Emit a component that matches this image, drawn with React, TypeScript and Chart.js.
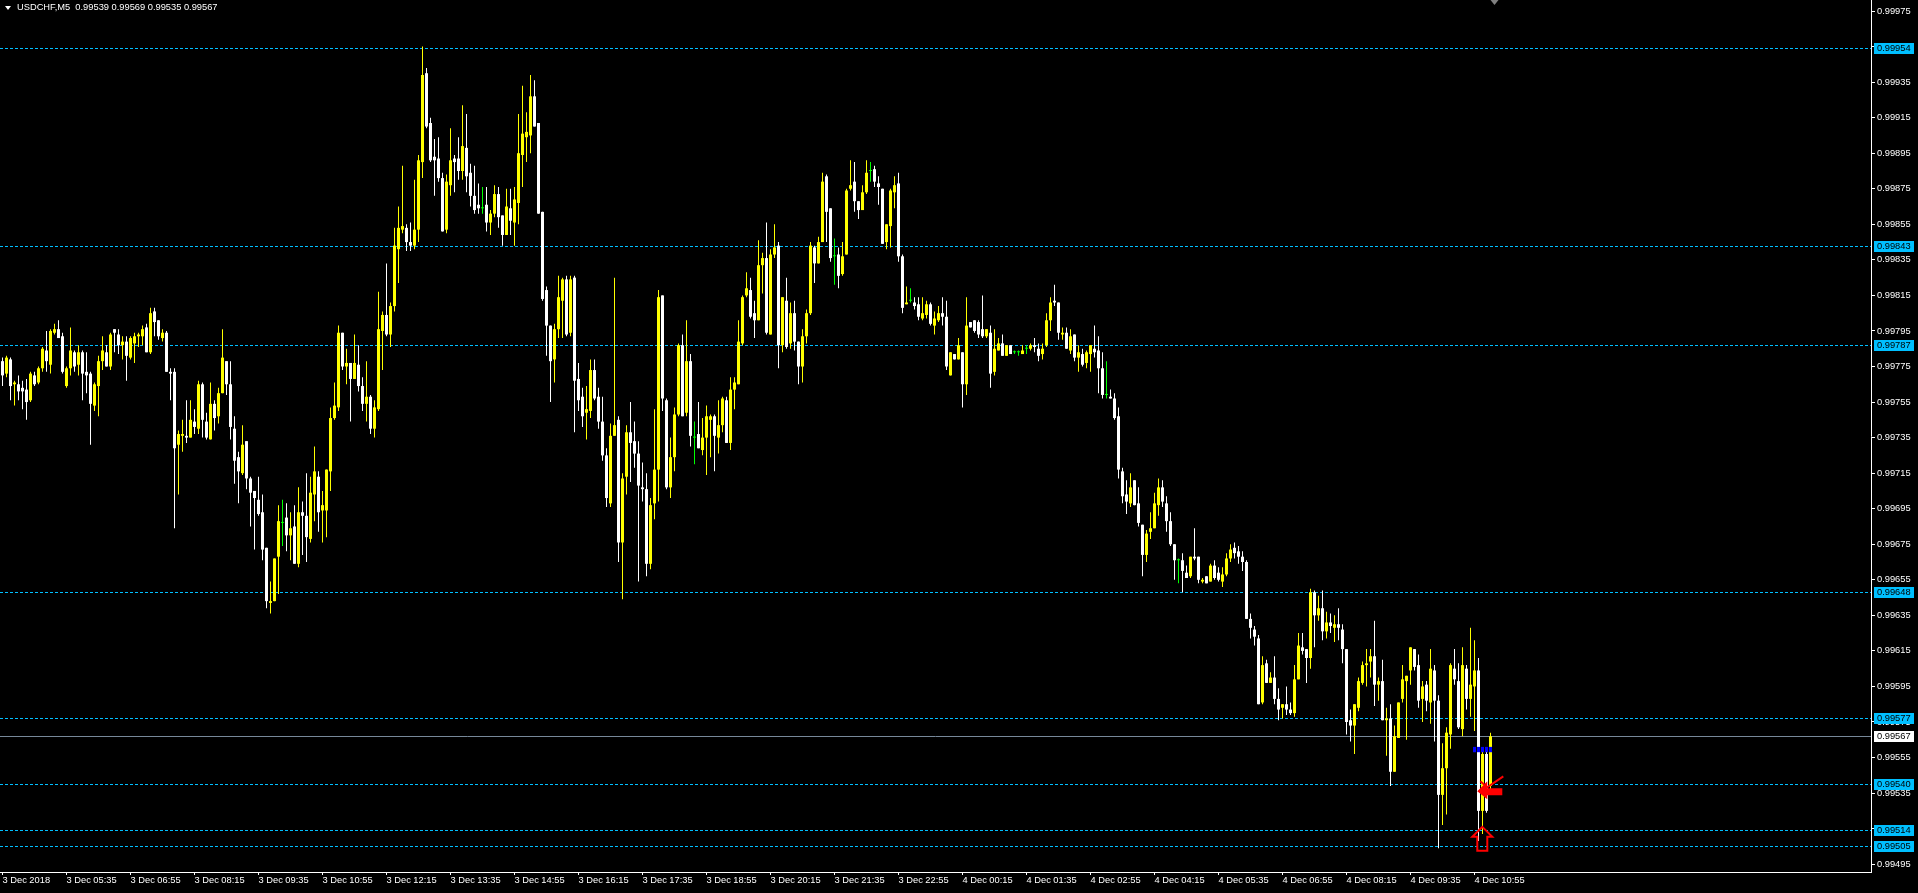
import React, { useEffect, useRef } from "react";
import { Chart, registerables } from "chart.js";

Chart.register(...registerables);

// ---------- data ----------
const opens = [
0.99778,0.99771,0.99779,0.99765,0.99765,0.99763,0.99762,0.99756,0.99770,0.99766,
0.99774,0.99784,0.99776,0.99794,0.99796,0.99792,0.99764,0.99774,0.99783,0.99776,
0.99783,0.99772,0.99771,0.99753,0.99764,0.99778,0.99783,0.99775,0.99796,0.99793,
0.99787,0.99789,0.99780,0.99788,0.99792,0.99792,0.99797,0.99783,0.99806,0.99801,
0.99791,0.99794,0.99772,0.99772,0.99731,0.99736,0.99736,0.99735,0.99744,0.99740,
0.99765,0.99744,0.99734,0.99754,0.99747,0.99760,0.99778,0.99765,0.99740,0.99724,
0.99715,0.99733,0.99712,0.99705,0.99700,0.99693,0.99673,0.99642,0.99643,0.99668,
0.99687,0.99690,0.99680,0.99685,0.99664,0.99693,0.99691,0.99678,0.99703,0.99713,
0.99694,0.99694,0.99716,0.99746,0.99752,0.99794,0.99775,0.99777,0.99768,0.99776,
0.99764,0.99754,0.99758,0.99740,0.99751,0.99795,0.99804,0.99793,0.99809,0.99841,
0.99852,0.99853,0.99845,0.99843,0.99852,0.99890,0.99940,0.99912,0.99893,0.99892,
0.99881,0.99852,0.99877,0.99892,0.99892,0.99885,0.99898,0.99884,0.99871,0.99866,
0.99864,0.99866,0.99856,0.99861,0.99872,0.99860,0.99849,0.99864,0.99856,0.99867,
0.99894,0.99904,0.99905,0.99927,0.99912,0.99862,0.99818,0.99798,0.99779,0.99796,
0.99812,0.99824,0.99794,0.99825,0.99768,0.99758,0.99749,0.99750,0.99773,0.99758,
0.99744,0.99725,0.99698,0.99736,0.99745,0.99676,0.99713,0.99738,0.99733,0.99726,
0.99707,0.99706,0.99664,0.99698,0.99717,0.99815,0.99756,0.99707,0.99724,0.99748,
0.99787,0.99749,0.99778,0.99735,0.99737,0.99728,0.99735,0.99745,0.99747,0.99735,
0.99742,0.99756,0.99732,0.99762,0.99765,0.99788,0.99815,0.99818,0.99805,0.99801,
0.99832,0.99836,0.99793,0.99838,0.99843,0.99787,0.99812,0.99788,0.99805,0.99789,
0.99775,0.99792,0.99805,0.99842,0.99833,0.99845,0.99882,0.99864,0.99837,0.99838,
0.99827,0.99838,0.99875,0.99879,0.99868,0.99863,0.99873,0.99885,0.99886,0.99878,
0.99875,0.99845,0.99854,0.99873,0.99878,0.99837,0.99810,0.99812,0.99811,0.99810,
0.99802,0.99804,0.99810,0.99798,0.99801,0.99805,0.99803,0.99770,0.99782,0.99779,
0.99783,0.99765,0.99800,0.99801,0.99800,0.99796,0.99792,0.99794,0.99772,0.99784,
0.99788,0.99781,0.99787,0.99783,0.99783,0.99782,0.99785,0.99785,0.99787,0.99785,
0.99782,0.99787,0.99801,0.99812,0.99811,0.99793,0.99794,0.99784,0.99793,0.99780,
0.99782,0.99777,0.99782,0.99785,0.99784,0.99774,0.99759,0.99758,0.99757,0.99747,
0.99716,0.99703,0.99698,0.99711,0.99698,0.99686,0.99669,0.99682,0.99684,0.99697,
0.99707,0.99698,0.99688,0.99675,0.99666,0.99666,0.99659,0.99657,0.99668,0.99668,
0.99654,0.99657,0.99654,0.99663,0.99659,0.99654,0.99658,0.99667,0.99673,0.99671,
0.99668,0.99665,0.99633,0.99627,0.99622,0.99586,0.99608,0.99597,0.99600,0.99588,
0.99583,0.99585,0.99582,0.99580,0.99599,0.99617,0.99616,0.99611,0.99648,0.99635,
0.99639,0.99626,0.99631,0.99628,0.99630,0.99627,0.99616,0.99576,0.99573,0.99583,
0.99597,0.99607,0.99609,0.99612,0.99596,0.99598,0.99576,0.99577,0.99547,0.99566,
0.99588,0.99598,0.99604,0.99616,0.99607,0.99588,0.99596,0.99586,0.99604,0.99587,
0.99534,0.99549,0.99568,0.99605,0.99598,0.99571,0.99605,0.99588,0.99595,0.99604,
0.99525,0.99557,0.99539];

const highs = [
0.99780,0.99781,0.99780,0.99767,0.99770,0.99767,0.99768,0.99772,0.99772,0.99775,
0.99786,0.99795,0.99796,0.99799,0.99801,0.99794,0.99775,0.99797,0.99784,0.99787,
0.99784,0.99783,0.99772,0.99766,0.99781,0.99792,0.99787,0.99794,0.99796,0.99796,
0.99792,0.99792,0.99792,0.99794,0.99794,0.99798,0.99799,0.99808,0.99808,0.99801,
0.99796,0.99795,0.99774,0.99774,0.99739,0.99745,0.99756,0.99756,0.99751,0.99767,
0.99766,0.99749,0.99766,0.99756,0.99763,0.99796,0.99778,0.99778,0.99747,0.99727,
0.99742,0.99733,0.99713,0.99705,0.99713,0.99703,0.99673,0.99654,0.99667,0.99697,
0.99700,0.99698,0.99693,0.99697,0.99707,0.99699,0.99715,0.99713,0.99730,0.99716,
0.99705,0.99717,0.99752,0.99766,0.99798,0.99794,0.99785,0.99777,0.99793,0.99787,
0.99769,0.99778,0.99759,0.99756,0.99817,0.99806,0.99833,0.99811,0.99853,0.99865,
0.99888,0.99855,0.99856,0.99880,0.99894,0.99955,0.99943,0.99915,0.99903,0.99904,
0.99884,0.99883,0.99909,0.99894,0.99904,0.99922,0.99917,0.99889,0.99888,0.99878,
0.99876,0.99876,0.99863,0.99877,0.99876,0.99860,0.99875,0.99875,0.99876,0.99917,
0.99933,0.99918,0.99939,0.99936,0.99912,0.99862,0.99820,0.99798,0.99799,0.99826,
0.99825,0.99826,0.99826,0.99826,0.99777,0.99763,0.99764,0.99779,0.99779,0.99763,
0.99758,0.99729,0.99743,0.99825,0.99747,0.99715,0.99742,0.99755,0.99744,0.99733,
0.99721,0.99715,0.99701,0.99751,0.99818,0.99815,0.99757,0.99735,0.99752,0.99788,
0.99793,0.99801,0.99782,0.99744,0.99755,0.99746,0.99753,0.99748,0.99748,0.99756,
0.99758,0.99758,0.99769,0.99769,0.99801,0.99815,0.99828,0.99825,0.99812,0.99846,
0.99839,0.99856,0.99841,0.99855,0.99845,0.99814,0.99825,0.99811,0.99812,0.99789,
0.99796,0.99807,0.99845,0.99843,0.99848,0.99884,0.99883,0.99864,0.99847,0.99842,
0.99845,0.99875,0.99891,0.99890,0.99868,0.99877,0.99891,0.99890,0.99888,0.99882,
0.99875,0.99855,0.99875,0.99882,0.99884,0.99838,0.99820,0.99819,0.99814,0.99814,
0.99814,0.99812,0.99811,0.99806,0.99809,0.99814,0.99812,0.99783,0.99782,0.99791,
0.99783,0.99814,0.99800,0.99801,0.99801,0.99815,0.99796,0.99798,0.99796,0.99791,
0.99793,0.99787,0.99787,0.99784,0.99784,0.99787,0.99787,0.99788,0.99791,0.99788,
0.99788,0.99805,0.99814,0.99821,0.99811,0.99797,0.99797,0.99796,0.99793,0.99787,
0.99785,0.99784,0.99787,0.99798,0.99792,0.99783,0.99778,0.99762,0.99760,0.99752,
0.99718,0.99711,0.99715,0.99711,0.99707,0.99686,0.99683,0.99693,0.99704,0.99712,
0.99711,0.99702,0.99693,0.99675,0.99667,0.99670,0.99663,0.99668,0.99684,0.99668,
0.99656,0.99657,0.99664,0.99666,0.99662,0.99662,0.99670,0.99675,0.99676,0.99674,
0.99671,0.99666,0.99636,0.99629,0.99624,0.99612,0.99610,0.99603,0.99612,0.99594,
0.99585,0.99595,0.99586,0.99607,0.99625,0.99625,0.99616,0.99650,0.99649,0.99646,
0.99649,0.99637,0.99636,0.99635,0.99639,0.99630,0.99616,0.99582,0.99585,0.99600,
0.99609,0.99616,0.99616,0.99632,0.99600,0.99610,0.99583,0.99585,0.99573,0.99586,
0.99607,0.99601,0.99617,0.99616,0.99613,0.99598,0.99598,0.99616,0.99607,0.99590,
0.99563,0.99572,0.99608,0.99616,0.99608,0.99617,0.99607,0.99628,0.99621,0.99611,
0.99559,0.99561,0.99569];

const lows = [
0.99764,0.99769,0.99756,0.99753,0.99756,0.99751,0.99745,0.99755,0.99764,0.99765,
0.99772,0.99772,0.99771,0.99793,0.99791,0.99771,0.99763,0.99770,0.99772,0.99770,
0.99756,0.99760,0.99731,0.99750,0.99747,0.99773,0.99775,0.99773,0.99783,0.99782,
0.99779,0.99767,0.99779,0.99777,0.99786,0.99787,0.99783,0.99782,0.99792,0.99790,
0.99789,0.99772,0.99756,0.99684,0.99703,0.99727,0.99732,0.99735,0.99737,0.99737,
0.99735,0.99734,0.99734,0.99739,0.99743,0.99760,0.99759,0.99734,0.99709,0.99698,
0.99714,0.99706,0.99685,0.99672,0.99691,0.99666,0.99639,0.99636,0.99643,0.99647,
0.99674,0.99671,0.99666,0.99664,0.99662,0.99669,0.99665,0.99676,0.99688,0.99682,
0.99676,0.99679,0.99705,0.99745,0.99750,0.99773,0.99765,0.99744,0.99768,0.99761,
0.99750,0.99744,0.99737,0.99735,0.99750,0.99773,0.99792,0.99786,0.99806,0.99822,
0.99850,0.99840,0.99840,0.99841,0.99845,0.99881,0.99909,0.99890,0.99871,0.99879,
0.99851,0.99850,0.99871,0.99873,0.99880,0.99880,0.99873,0.99865,0.99861,0.99861,
0.99861,0.99851,0.99849,0.99859,0.99853,0.99843,0.99849,0.99849,0.99843,0.99855,
0.99876,0.99890,0.99895,0.99910,0.99861,0.99812,0.99781,0.99755,0.99766,0.99791,
0.99791,0.99792,0.99792,0.99738,0.99750,0.99741,0.99734,0.99746,0.99756,0.99740,
0.99722,0.99696,0.99696,0.99736,0.99665,0.99644,0.99703,0.99710,0.99718,0.99654,
0.99699,0.99657,0.99661,0.99689,0.99699,0.99750,0.99706,0.99701,0.99716,0.99747,
0.99747,0.99747,0.99730,0.99720,0.99729,0.99725,0.99714,0.99724,0.99716,0.99726,
0.99738,0.99732,0.99728,0.99751,0.99765,0.99787,0.99814,0.99802,0.99791,0.99801,
0.99816,0.99793,0.99793,0.99836,0.99774,0.99783,0.99785,0.99785,0.99784,0.99765,
0.99766,0.99788,0.99804,0.99822,0.99833,0.99845,0.99845,0.99834,0.99821,0.99819,
0.99826,0.99838,0.99874,0.99862,0.99858,0.99863,0.99872,0.99879,0.99876,0.99866,
0.99844,0.99841,0.99842,0.99864,0.99834,0.99805,0.99810,0.99811,0.99807,0.99801,
0.99801,0.99802,0.99798,0.99793,0.99800,0.99798,0.99773,0.99770,0.99779,0.99779,
0.99752,0.99759,0.99797,0.99794,0.99791,0.99791,0.99791,0.99763,0.99770,0.99784,
0.99781,0.99781,0.99782,0.99782,0.99781,0.99782,0.99782,0.99784,0.99783,0.99778,
0.99779,0.99786,0.99795,0.99809,0.99790,0.99790,0.99785,0.99782,0.99778,0.99772,
0.99775,0.99774,0.99772,0.99780,0.99760,0.99757,0.99757,0.99757,0.99745,0.99712,
0.99698,0.99692,0.99696,0.99697,0.99685,0.99657,0.99665,0.99678,0.99684,0.99691,
0.99696,0.99682,0.99674,0.99655,0.99653,0.99648,0.99656,0.99656,0.99666,0.99653,
0.99653,0.99653,0.99654,0.99655,0.99654,0.99651,0.99657,0.99665,0.99667,0.99664,
0.99660,0.99633,0.99622,0.99618,0.99585,0.99585,0.99597,0.99597,0.99585,0.99576,
0.99577,0.99579,0.99579,0.99578,0.99599,0.99613,0.99597,0.99605,0.99617,0.99632,
0.99621,0.99622,0.99625,0.99620,0.99621,0.99608,0.99568,0.99564,0.99557,0.99581,
0.99596,0.99595,0.99600,0.99584,0.99587,0.99576,0.99556,0.99539,0.99547,0.99566,
0.99586,0.99565,0.99596,0.99604,0.99583,0.99575,0.99581,0.99574,0.99564,0.99504,
0.99517,0.99523,0.99560,0.99596,0.99571,0.99567,0.99582,0.99578,0.99570,0.99508,
0.99512,0.99524,0.99535];

const closes = [
0.99770,0.99780,0.99764,0.99766,0.99761,0.99761,0.99755,0.99771,0.99765,0.99774,
0.99785,0.99778,0.99795,0.99796,0.99791,0.99772,0.99774,0.99784,0.99775,0.99783,
0.99771,0.99770,0.99754,0.99765,0.99778,0.99784,0.99775,0.99793,0.99794,0.99787,
0.99789,0.99781,0.99791,0.99792,0.99793,0.99796,0.99783,0.99805,0.99800,0.99792,
0.99794,0.99772,0.99771,0.99729,0.99737,0.99737,0.99735,0.99745,0.99741,0.99765,
0.99745,0.99735,0.99754,0.99746,0.99760,0.99780,0.99765,0.99741,0.99722,0.99716,
0.99731,0.99712,0.99704,0.99701,0.99692,0.99672,0.99643,0.99643,0.99667,0.99688,
0.99687,0.99680,0.99684,0.99664,0.99693,0.99691,0.99679,0.99704,0.99716,0.99693,
0.99697,0.99717,0.99746,0.99753,0.99794,0.99775,0.99777,0.99768,0.99777,0.99764,
0.99754,0.99758,0.99740,0.99752,0.99796,0.99804,0.99793,0.99809,0.99843,0.99853,
0.99854,0.99845,0.99843,0.99852,0.99891,0.99939,0.99910,0.99891,0.99891,0.99881,
0.99851,0.99879,0.99891,0.99890,0.99885,0.99899,0.99882,0.99871,0.99863,0.99864,
0.99864,0.99856,0.99861,0.99872,0.99859,0.99849,0.99865,0.99857,0.99869,0.99895,
0.99906,0.99907,0.99927,0.99910,0.99861,0.99813,0.99798,0.99778,0.99796,0.99814,
0.99824,0.99793,0.99824,0.99767,0.99756,0.99747,0.99751,0.99773,0.99757,0.99744,
0.99725,0.99701,0.99736,0.99742,0.99676,0.99712,0.99738,0.99732,0.99726,0.99708,
0.99706,0.99664,0.99697,0.99717,0.99814,0.99757,0.99707,0.99724,0.99748,0.99787,
0.99747,0.99778,0.99736,0.99735,0.99729,0.99735,0.99747,0.99747,0.99736,0.99742,
0.99757,0.99732,0.99762,0.99766,0.99789,0.99814,0.99819,0.99803,0.99801,0.99832,
0.99836,0.99794,0.99838,0.99842,0.99787,0.99814,0.99786,0.99805,0.99789,0.99775,
0.99792,0.99805,0.99843,0.99833,0.99845,0.99879,0.99862,0.99836,0.99837,0.99826,
0.99837,0.99874,0.99877,0.99868,0.99863,0.99873,0.99884,0.99885,0.99879,0.99876,
0.99844,0.99855,0.99874,0.99877,0.99837,0.99808,0.99811,0.99812,0.99809,0.99803,
0.99805,0.99810,0.99799,0.99802,0.99805,0.99803,0.99775,0.99783,0.99779,0.99787,
0.99765,0.99798,0.99797,0.99795,0.99793,0.99792,0.99796,0.99771,0.99785,0.99788,
0.99781,0.99787,0.99782,0.99783,0.99783,0.99784,0.99785,0.99787,0.99786,0.99781,
0.99785,0.99801,0.99811,0.99811,0.99794,0.99794,0.99785,0.99792,0.99780,0.99783,
0.99776,0.99783,0.99787,0.99783,0.99774,0.99759,0.99759,0.99757,0.99746,0.99717,
0.99702,0.99699,0.99707,0.99697,0.99687,0.99669,0.99681,0.99684,0.99698,0.99707,
0.99699,0.99688,0.99675,0.99666,0.99666,0.99660,0.99656,0.99668,0.99667,0.99655,
0.99655,0.99653,0.99663,0.99656,0.99655,0.99658,0.99667,0.99672,0.99670,0.99668,
0.99665,0.99633,0.99628,0.99623,0.99585,0.99607,0.99597,0.99600,0.99588,0.99582,
0.99585,0.99582,0.99580,0.99599,0.99618,0.99615,0.99611,0.99648,0.99635,0.99639,
0.99626,0.99631,0.99629,0.99630,0.99628,0.99616,0.99575,0.99573,0.99585,0.99598,
0.99607,0.99608,0.99612,0.99596,0.99598,0.99576,0.99577,0.99547,0.99567,0.99586,
0.99599,0.99601,0.99617,0.99606,0.99587,0.99595,0.99587,0.99605,0.99587,0.99534,
0.99549,0.99569,0.99607,0.99599,0.99572,0.99607,0.99588,0.99596,0.99604,0.99525,
0.99557,0.99525,0.99567];

const timeLabels = [
  "3 Dec 2018", "3 Dec 05:35", "3 Dec 06:55", "3 Dec 08:15", "3 Dec 09:35", "3 Dec 10:55",
  "3 Dec 12:15", "3 Dec 13:35", "3 Dec 14:55", "3 Dec 16:15", "3 Dec 17:35", "3 Dec 18:55",
  "3 Dec 20:15", "3 Dec 21:35", "3 Dec 22:55", "4 Dec 00:15", "4 Dec 01:35", "4 Dec 02:55",
  "4 Dec 04:15", "4 Dec 05:35", "4 Dec 06:55", "4 Dec 08:15", "4 Dec 09:35", "4 Dec 10:55",
];
const timeTickBars = [0, 16, 32, 48, 64, 80, 96, 112, 128, 144, 160, 176, 192, 208, 224, 240, 256, 272, 288, 304, 320, 336, 352, 368];

const priceTicks = [
  0.99495, 0.99515, 0.99535, 0.99555, 0.99575, 0.99595, 0.99615, 0.99635, 0.99655, 0.99675,
  0.99695, 0.99715, 0.99735, 0.99755, 0.99775, 0.99795, 0.99815, 0.99835, 0.99855, 0.99875,
  0.99895, 0.99915, 0.99935, 0.99955, 0.99975,
];

const levelLines = [0.99954, 0.99843, 0.99787, 0.99648, 0.99577, 0.9954, 0.99514, 0.99505];
const bidPrice = 0.99567;

const blueBarIdx = [368, 369, 370, 371, 372];
const blueBarLow = 0.99558;
const blueBarHigh = 0.99561;

const sellArrowAt = { bar: 368.7, price: 0.99536 };
const upArrowAt = { bar: 369.95, price: 0.99516 };
const shiftMarkerBar = 373;

const symbolTitle = "USDCHF,M5";
const titleQuote = "0.99539 0.99569 0.99535 0.99567";

// ---------- styling ----------
const FONT_FAMILY = '"Liberation Sans", Arial, sans-serif';
const FONT_SIZE = 9.3;
const BULL = "#FFFF00";
const BEAR = "#FFFFFF";
const DOJI = "#00FF00";
const LEVEL = "#00BFFF";
const BID = "#778899";

const X_MIN = -0.625;
const X_MAX = 467.125;
const Y_MIN = 0.9949061;
const Y_MAX = 0.9998119;

const overlayPlugin = {
  id: "mtOverlay",
  beforeDatasetsDraw(chart: any) {
    const { ctx, chartArea: a, scales } = chart;
    const y = scales.y;
    ctx.save();
    ctx.lineWidth = 1;
    ctx.strokeStyle = LEVEL;
    ctx.setLineDash([3, 2]);
    levelLines.forEach((l) => {
      const py = Math.round(y.getPixelForValue(l)) + 0.5;
      ctx.beginPath();
      ctx.moveTo(a.left, py);
      ctx.lineTo(a.right, py);
      ctx.stroke();
    });
    ctx.setLineDash([]);
    ctx.strokeStyle = BID;
    const by = Math.round(y.getPixelForValue(bidPrice)) + 0.5;
    ctx.beginPath();
    ctx.moveTo(a.left, by);
    ctx.lineTo(a.right, by);
    ctx.stroke();
    ctx.restore();
  },
  afterDatasetsDraw(chart: any) {
    const { ctx, chartArea: a, scales } = chart;
    const { x, y } = scales;
    ctx.save();
    // filled red arrow
    const tx = x.getPixelForValue(sellArrowAt.bar);
    const ty = y.getPixelForValue(sellArrowAt.price);
    ctx.fillStyle = "#FF0000";
    ctx.beginPath();
    ctx.moveTo(tx, ty);
    ctx.lineTo(tx + 10, ty - 10);
    ctx.lineTo(tx + 10, ty - 3);
    ctx.lineTo(tx + 25, ty - 3);
    ctx.lineTo(tx + 25, ty + 4);
    ctx.lineTo(tx + 10, ty + 4);
    ctx.lineTo(tx + 10, ty + 8);
    ctx.closePath();
    ctx.fill();
    ctx.strokeStyle = "#FF0000";
    ctx.lineWidth = 2;
    ctx.beginPath();
    ctx.moveTo(tx + 3, ty - 10);
    ctx.lineTo(tx + 10, ty - 4);
    ctx.lineTo(tx + 26, ty - 15);
    ctx.stroke();
    // hollow red up arrow
    const ux = x.getPixelForValue(upArrowAt.bar);
    const uy = y.getPixelForValue(upArrowAt.price);
    ctx.lineWidth = 2;
    ctx.beginPath();
    ctx.moveTo(ux, uy);
    ctx.lineTo(ux + 10, uy + 10);
    ctx.lineTo(ux + 5, uy + 10);
    ctx.lineTo(ux + 5, uy + 24);
    ctx.lineTo(ux - 5, uy + 24);
    ctx.lineTo(ux - 5, uy + 10);
    ctx.lineTo(ux - 10, uy + 10);
    ctx.closePath();
    ctx.stroke();
    // chart shift marker
    const sx = x.getPixelForValue(shiftMarkerBar);
    ctx.fillStyle = "#808080";
    ctx.beginPath();
    ctx.moveTo(sx - 4, a.top);
    ctx.lineTo(sx + 4, a.top);
    ctx.lineTo(sx, a.top + 5);
    ctx.closePath();
    ctx.fill();
    ctx.restore();
  },
  afterDraw(chart: any) {
    const { ctx, chartArea: a, scales } = chart;
    const y = scales.y;
    ctx.save();
    ctx.font = `${FONT_SIZE}px ${FONT_FAMILY}`;
    ctx.textBaseline = "middle";
    ctx.textAlign = "left";
    const drawLabel = (v: number, bg: string, fg: string) => {
      const py = Math.round(y.getPixelForValue(v));
      ctx.fillStyle = bg;
      ctx.fillRect(a.right + 3, py - 5, 40, 11);
      ctx.fillStyle = fg;
      ctx.fillText(v.toFixed(5), a.right + 6, py + 0.5);
    };
    levelLines.forEach((l) => drawLabel(l, LEVEL, "#000000"));
    drawLabel(bidPrice, "#FFFFFF", "#000000");
    ctx.restore();
  },
};

export default function App() {
  const ref = useRef<HTMLCanvasElement>(null);

  useEffect(() => {
    const canvas = ref.current;
    if (!canvas) return;
    const n = Math.min(opens.length, highs.length, lows.length, closes.length);
    const idx = Array.from({ length: n }, (_, i) => i);
    const colors = idx.map((i) =>
      closes[i] > opens[i] ? BULL : closes[i] < opens[i] ? BEAR : DOJI
    );
    const font = { family: FONT_FAMILY, size: FONT_SIZE };

    const chart = new Chart(canvas, {
      type: "bar",
      data: {
        datasets: [
          {
            type: "bar",
            label: "marker",
            data: blueBarIdx.map((i) => ({ x: i, y: [blueBarLow, blueBarHigh] })),
            backgroundColor: "#0000FF",
            barThickness: 3,
            grouped: false,
            inflateAmount: 0,
            order: 0,
          } as any,
          {
            type: "bar",
            label: "body",
            data: idx.map((i) => ({ x: i, y: [opens[i], closes[i]] })),
            backgroundColor: colors,
            barThickness: 3,
            minBarLength: 1,
            grouped: false,
            inflateAmount: 0,
            order: 1,
          } as any,
          {
            type: "bar",
            label: "wick",
            data: idx.map((i) => ({ x: i, y: [lows[i], highs[i]] })),
            backgroundColor: colors,
            barThickness: 1,
            minBarLength: 1,
            grouped: false,
            inflateAmount: 0,
            order: 2,
          } as any,
        ],
      },
      options: {
        responsive: false,
        maintainAspectRatio: false,
        animation: false,
        devicePixelRatio: 1,
        events: [],
        layout: { padding: 0 },
        plugins: {
          legend: { display: false },
          tooltip: { enabled: false },
          title: { display: false },
        },
        scales: {
          x: {
            type: "linear",
            min: X_MIN,
            max: X_MAX,
            offset: false,
            bounds: "data",
            grid: {
              display: true,
              drawOnChartArea: false,
              drawTicks: true,
              tickLength: 3,
              color: "#FFFFFF",
              offset: false,
            },
            border: { display: true, color: "#FFFFFF", width: 1 },
            ticks: {
              autoSkip: false,
              maxRotation: 0,
              minRotation: 0,
              align: "start",
              color: "#FFFFFF",
              font,
              padding: 0,
              callback: (_v: any, i: number) => timeLabels[i] ?? "",
            },
            afterBuildTicks: (s: any) => {
              s.ticks = timeTickBars.map((v) => ({ value: v }));
            },
            afterFit: (s: any) => {
              s.height = 21;
              s.paddingLeft = 0;
              s.paddingRight = 0;
            },
          } as any,
          y: {
            type: "linear",
            position: "right",
            min: Y_MIN,
            max: Y_MAX,
            bounds: "data",
            beginAtZero: false,
            grid: {
              display: true,
              drawOnChartArea: false,
              drawTicks: true,
              tickLength: 4,
              color: "#FFFFFF",
            },
            border: { display: true, color: "#FFFFFF", width: 1 },
            ticks: {
              autoSkip: false,
              color: "#FFFFFF",
              font,
              padding: 2,
              callback: (v: any) => Number(v).toFixed(5),
            },
            afterBuildTicks: (s: any) => {
              s.ticks = priceTicks.map((v) => ({ value: v }));
            },
            afterFit: (s: any) => {
              s.width = 47;
              s.paddingTop = 0;
              s.paddingBottom = 0;
            },
          } as any,
        },
      } as any,
      plugins: [overlayPlugin as any],
    });
    return () => chart.destroy();
  }, []);

  return (
    <div
      style={{
        position: "fixed",
        left: 0,
        top: 0,
        width: 1918,
        height: 893,
        background: "#000000",
        overflow: "hidden",
      }}
    >
      <canvas ref={ref} width={1918} height={893} style={{ display: "block", width: 1918, height: 893 }} />
      <div
        style={{
          position: "absolute",
          left: 5,
          top: 6,
          width: 0,
          height: 0,
          borderLeft: "3px solid transparent",
          borderRight: "3px solid transparent",
          borderTop: "4px solid #FFFFFF",
        }}
      />
      <div
        style={{
          position: "absolute",
          left: 17,
          top: 2,
          color: "#FFFFFF",
          fontFamily: FONT_FAMILY,
          fontSize: FONT_SIZE,
          lineHeight: "11px",
          whiteSpace: "pre",
          pointerEvents: "none",
        }}
      >
        {symbolTitle + "  " + titleQuote}
      </div>
    </div>
  );
}
